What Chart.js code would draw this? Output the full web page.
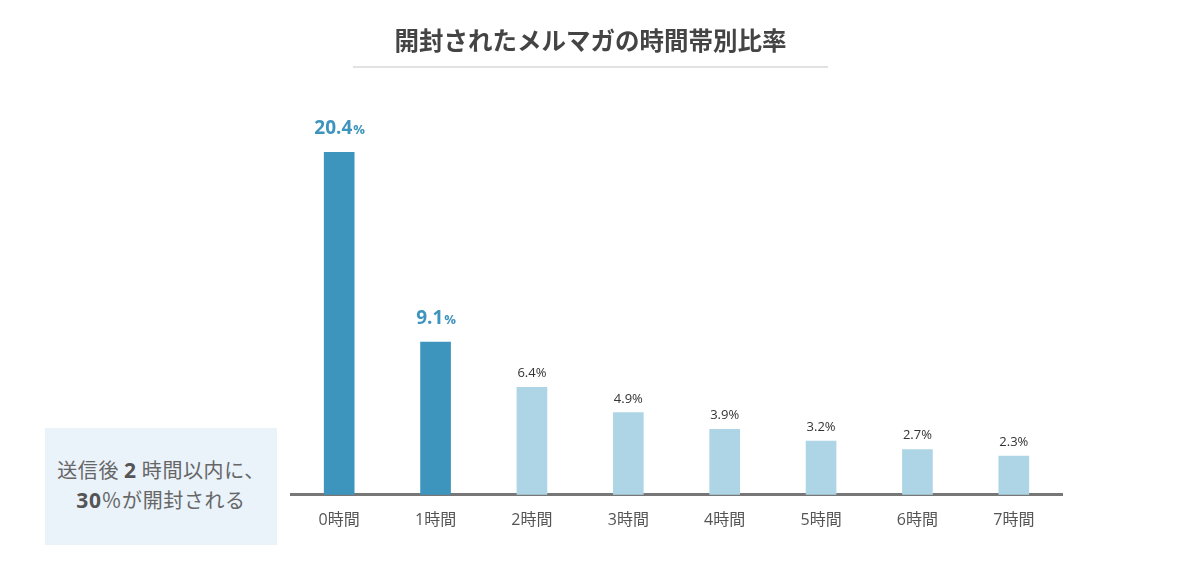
<!DOCTYPE html>
<html lang="ja">
<head>
<meta charset="utf-8">
<script src="https://cdn.jsdelivr.net/npm/chart.js@4"></script>
<style>
  html, body { margin: 0; padding: 0; background: #fff; }
  #wrap { position: relative; width: 1200px; height: 571px; }
  canvas { position: absolute; left: 0; top: 0; }
  #title {
    position: absolute; left: 353px; width: 475px; top: 22px; height: 44px;
    border-bottom: 2px solid #e2e2e2; text-align: center;
    font: bold 24.5px 'Noto Sans CJK JP', sans-serif; color: #444; line-height: 36px;
  }
  #note {
    position: absolute; left: 45px; top: 428px; width: 232px; height: 117px;
    background: #eaf2fa; color: #666; text-align: center;
    font: 20px 'Noto Sans CJK JP', sans-serif; line-height: 30px; letter-spacing: 0.6px;
    box-sizing: border-box; padding-top: 27px;
  }
  #note b { color: #555; font-family: 'Open Sans', sans-serif; font-size: 21px; }
</style>
</head>
<body>
<div id="wrap">
  <canvas id="chart" width="1200" height="571"></canvas>
  <div id="title">開封されたメルマガの時間帯別比率</div>
  <div id="note">送信後 <b>2</b> 時間以内に、<br><b>30</b>％が開封される</div>
</div>
<script>
const hours = ['0時間', '1時間', '2時間', '3時間', '4時間', '5時間', '6時間', '7時間'];
const rates = [20.4, 9.1, 6.4, 4.9, 3.9, 3.2, 2.7, 2.3];
const highlight = [true, true, false, false, false, false, false, false];

const darkBlue = '#3d94bd';
const lightBlue = '#aed5e6';

// value labels above each bar
const valueLabels = {
    id: 'valueLabels',
    afterDatasetsDraw(chart) {
        const ctx = chart.ctx;
        const meta = chart.getDatasetMeta(0);
        ctx.save();
        ctx.textBaseline = 'alphabetic';
        meta.data.forEach(function (bar, i) {
            const num = rates[i].toFixed(1);
            if (highlight[i]) {
                ctx.fillStyle = darkBlue;
                ctx.font = 'bold 19px "Open Sans", sans-serif';
                const w1 = ctx.measureText(num).width;
                ctx.font = 'bold 13px "Open Sans", sans-serif';
                const w2 = ctx.measureText('%').width;
                const x0 = bar.x - (w1 + w2) / 2;
                const y = bar.y - 18;
                ctx.textAlign = 'left';
                ctx.font = 'bold 19px "Open Sans", sans-serif';
                ctx.fillText(num, x0, y);
                ctx.font = 'bold 13px "Open Sans", sans-serif';
                ctx.fillText('%', x0 + w1 + 1, y);
            } else {
                ctx.fillStyle = '#333';
                ctx.font = '13px "Open Sans", sans-serif';
                ctx.textAlign = 'center';
                ctx.fillText(num + '%', bar.x, bar.y - 10);
            }
        });
        ctx.restore();
    }
};

new Chart(document.getElementById('chart'), {
    type: 'bar',
    data: {
        labels: hours,
        datasets: [{
            data: rates,
            backgroundColor: highlight.map(h => h ? darkBlue : lightBlue),
            barThickness: 30
        }]
    },
    options: {
        responsive: false,
        animation: false,
        layout: { padding: { left: 291, right: 138, top: 92, bottom: 25 } },
        plugins: { legend: { display: false }, tooltip: { enabled: false } },
        scales: {
            x: {
                grid: { display: false, drawTicks: false },
                border: { color: '#777', width: 3 },
                ticks: { color: '#555', padding: 16, font: { size: 16, family: "'Open Sans', 'Noto Sans CJK JP', sans-serif" } }
            },
            y: { display: false, min: 0, max: 24 }
        }
    },
    plugins: [valueLabels]
});
</script>
</body>
</html>
